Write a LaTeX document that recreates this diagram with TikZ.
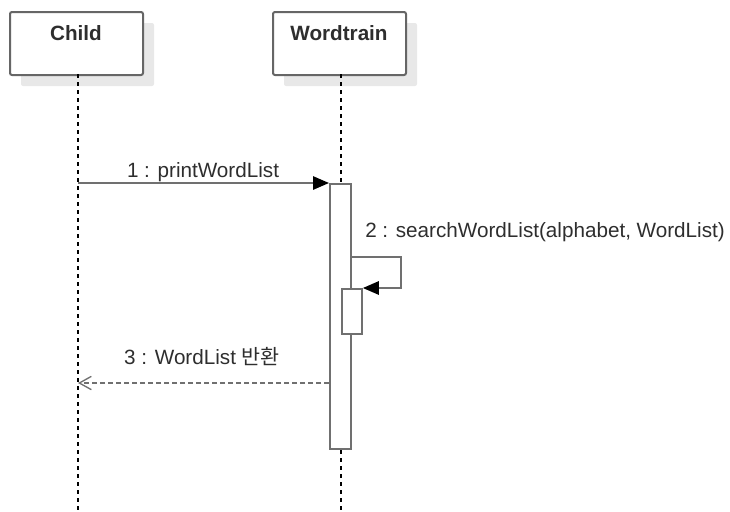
\documentclass[tikz,border=0pt]{standalone}
\usepackage{fontspec}
\setmainfont{Liberation Sans}
\newfontfamily\krfont{Noto Sans CJK KR}
\usetikzlibrary{arrows.meta,shadows,calc}
\definecolor{linec}{HTML}{707070}
\definecolor{boxc}{HTML}{666666}
\definecolor{txtc}{HTML}{2E2E2E}
\definecolor{shadc}{HTML}{E8E8E8}
\begin{document}
\begin{tikzpicture}[x=0.75pt,y=-0.75pt,
  headbox/.style={draw=boxc, line width=1.5pt, fill=white, rounded corners=1.5pt,
    minimum width=99.75pt, minimum height=47.25pt, anchor=north west, inner sep=0pt,
    drop shadow={shadow xshift=8.25pt, shadow yshift=-8.25pt, fill=shadc, opacity=1}},
  title/.style={font=\fontsize{15.5}{18}\selectfont\bfseries, text=txtc, inner sep=0pt},
  lbl/.style={font=\fontsize{15.5}{18}\selectfont, text=txtc, inner sep=0pt},
  lifeline/.style={draw=black, line width=1.1pt, dash pattern=on 3pt off 3pt},
  actbox/.style={draw=linec, line width=1.4pt, fill=white, inner sep=0pt, anchor=north west},
  msg/.style={draw=linec, line width=1.4pt, -{Triangle[length=12pt,width=10pt,color=black]}},
  ret/.style={draw=linec, line width=1.4pt, dash pattern=on 3.5pt off 2.5pt,
    -{Straight Barb[length=9pt,width=10pt,line width=1pt]}}
]
\useasboundingbox (0,0) rectangle (730,511);

% heads
\node[headbox] (child) at (9,11) {};
\node[headbox] (word) at (272,11) {};
\node[title] (childT) at (76,33) {Child};
\node[title] (wordT) at (339,33) {Wordtrain};

% lifelines
\coordinate (cTop) at (78,74);
\coordinate (cBot) at (78,511);
\coordinate (wTop) at (341,74);
\coordinate (wBot) at (341,511);
\draw[lifeline] (cTop) -- (cBot);
\draw[lifeline] (wTop) -- (wBot);

% activations
\node[actbox, minimum width=15.75pt, minimum height=198.75pt] (act1) at (329,183) {};
\node[actbox, minimum width=15pt, minimum height=33.75pt] (act2) at (341,288) {};

% message 1
\draw[msg] (cTop |- act1.north west) -- (act1.north west);
\node[lbl] (l1) at (203,172) {1 : printWordList};

% message 2 (self)
\draw[msg] ($(act1.north east)+(0,74)$) -- ++(49,0) |- (act2.north east);
\node[lbl, anchor=west] (l2) at (365,232) {2 : searchWordList(alphabet, WordList)};

% message 3 (return)
\coordinate (r3) at ($(act1.north west)+(0,200)$);
\draw[ret] (r3) -- (cTop |- r3);
\node[lbl] (l3) at (202,357) {3 : WordList {\krfont 반환}};
\end{tikzpicture}
\end{document}
